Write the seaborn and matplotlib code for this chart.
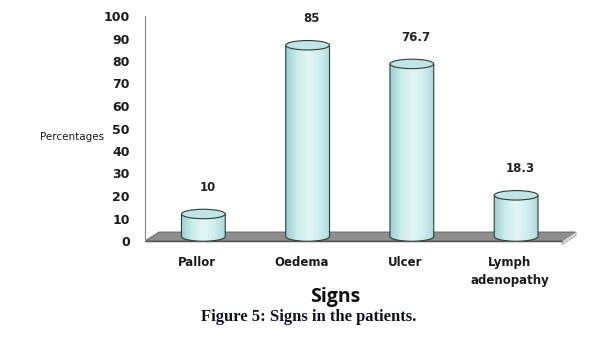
import numpy as np
import matplotlib
matplotlib.use("Agg")
import matplotlib.pyplot as plt
import seaborn as sns
from matplotlib.patches import Ellipse, Polygon, PathPatch
from matplotlib.path import Path
from matplotlib.colors import LinearSegmentedColormap

# data
signs = ["Pallor", "Oedema", "Ulcer", "Lymph\nadenopathy"]
percentages = [10, 85, 76.7, 18.3]
value_labels = ["10", "85", "76.7", "18.3"]
yticks = list(range(0, 101, 10))

sns.set_style("white")
plt.rcParams["font.family"] = ["DejaVu Sans"]

fig = plt.figure(figsize=(5.98, 3.39), dpi=100)
ax = fig.add_axes([145 / 598, (339 - 241) / 339, 430 / 598, 225 / 339])

sns.barplot(x=signs, y=percentages, ax=ax, width=0.42, color="#cdeced",
            edgecolor="none", linewidth=0)

# cylinder look
cmap = LinearSegmentedColormap.from_list(
    "cyl", ["#9dcfcf", "#c9ebeb", "#e3f6f7", "#d2eeef", "#aed9d9"])
grad = np.linspace(0, 1, 256).reshape(1, -1)
shift = 0.06   # depth offset of the bars
lift = 2.0     # bars stand in the middle of the floor
eh = 4.2       # ellipse height in data units
edge = "#2d3b3b"

bars = list(ax.patches)
for p, lab in zip(bars, value_labels):
    x0 = p.get_x() + shift
    w = p.get_width()
    top = p.get_height() + lift
    y0 = lift
    cx = x0 + w / 2
    p.set_visible(False)

    t = np.linspace(np.pi, 2 * np.pi, 40)
    arc = np.column_stack([cx + w / 2 * np.cos(t), y0 + eh / 2 * np.sin(t)])
    verts = np.vstack([[x0, top], arc, [x0 + w, top], [x0, top]])
    codes = [Path.MOVETO] + [Path.LINETO] * (len(verts) - 2) + [Path.CLOSEPOLY]
    body = PathPatch(Path(verts, codes), facecolor="none", edgecolor=edge,
                     lw=0.8, zorder=4)
    ax.add_patch(body)
    img = ax.imshow(grad, extent=[x0, x0 + w, y0 - eh, top], aspect="auto",
                    cmap=cmap, zorder=3, clip_on=True)
    img.set_clip_path(body)
    ax.add_patch(Ellipse((cx, top), w, eh, facecolor="#bfe5e5",
                         edgecolor=edge, lw=0.8, zorder=5, clip_on=False))
    ax.annotate(lab, (cx, top), xytext=(3, 19), textcoords="offset points",
                ha="center", va="center", fontsize=8.5, fontweight="bold",
                color="#222222", annotation_clip=False)

# gray floor
dx, dy = 0.135, 4.0
ax.add_patch(Polygon([(-0.5, 0), (3.5, 0), (3.5 + dx, dy), (-0.5 + dx, dy)],
                     closed=True, facecolor="#8e8e8e", edgecolor="#5a5a5a",
                     lw=0.6, zorder=1))
ax.add_patch(Polygon([(3.5, 0), (3.5 + dx, dy), (3.5 + dx, dy - 1.6), (3.5, -1.6)],
                     closed=True, facecolor="#d6d6d6", edgecolor="#9a9a9a",
                     lw=0.5, zorder=1, clip_on=False))
ax.add_patch(Polygon([(-0.5, 0), (3.5, 0), (3.5, -1.0), (-0.5, -1.0)],
                     closed=True, facecolor="#dcdcdc", edgecolor="none",
                     zorder=1, clip_on=False))

ax.set_xlim(-0.5, 3.5 + 0.125)
ax.set_ylim(0, 100)
ax.set_yticks(yticks)
ax.set_xticks(range(len(signs)))
ax.set_xticklabels(signs, fontsize=8.5, fontweight="bold", color="#1a1a1a",
                   linespacing=1.45)
ax.set_xticks([-0.5, 0.5, 1.5, 2.5, 3.5], minor=True)
ax.tick_params(axis="x", which="major", length=0, pad=11)
ax.tick_params(axis="x", which="minor", length=4, width=0.8, color="#555555",
               direction="out")
ax.tick_params(axis="y", length=3, width=0.8, color="#888888", pad=8,
               direction="out", labelsize=9)
for t in ax.get_yticklabels():
    t.set_fontweight("bold")
    t.set_color("#1a1a1a")

sns.despine(ax=ax, top=True, right=True)
ax.spines["left"].set_bounds(0, 100)
ax.spines["left"].set_color("#888888")
ax.spines["left"].set_linewidth(0.8)
ax.spines["bottom"].set_bounds(-0.5, 3.5)
ax.spines["bottom"].set_color("#555555")
ax.spines["bottom"].set_linewidth(0.8)
ax.spines["bottom"].set_zorder(2)

ax.set_ylabel("Percentages", rotation=0, ha="right", va="center",
              fontsize=7.5, color="#1a1a1a")
ax.yaxis.set_label_coords(-0.095, 0.462)
ax.set_xlabel("Signs", fontsize=14, fontweight="bold", family="Open Sans",
              color="#111111")
ax.xaxis.set_label_coords(0.442, (241 - 302) / 225)
ax.xaxis.label.set_va("baseline")

fig.text(309 / 598, 1 - 321 / 339, "Figure 5: Signs in the patients.",
         ha="center", va="baseline", fontsize=12, fontweight="bold",
         family="Liberation Serif", color="#111122")

fig.savefig("out.png", dpi=100)
